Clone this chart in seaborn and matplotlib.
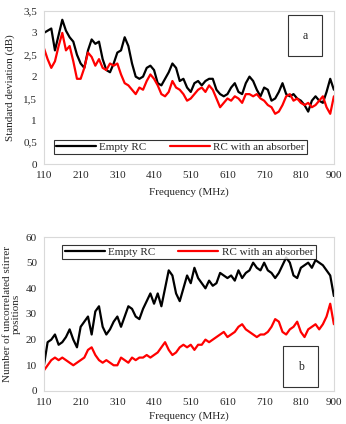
import numpy as np
import pandas as pd
import matplotlib.pyplot as plt
import seaborn as sns

# frequency axis (MHz)
freq = list(range(110, 901, 10))

# panel a: standard deviation (dB)
std_empty = [3.0, 3.05, 3.1, 2.6, 2.95, 3.3, 3.05, 2.9, 2.8, 2.5,
             2.3, 2.2, 2.6, 2.85, 2.75, 2.8, 2.4, 2.15, 2.1, 2.3,
             2.55, 2.6, 2.9, 2.7, 2.3, 2.0, 1.95, 2.0, 2.2, 2.25,
             2.15, 1.85, 1.8, 1.95, 2.1, 2.3, 2.2, 1.9, 1.95, 1.75,
             1.65, 1.85, 1.9, 1.8, 1.9, 1.95, 1.95, 1.7, 1.6, 1.55,
             1.6, 1.75, 1.85, 1.65, 1.6, 1.85, 2.0, 1.9, 1.7, 1.55,
             1.75, 1.7, 1.45, 1.5, 1.65, 1.85, 1.6, 1.55, 1.6, 1.5,
             1.45, 1.35, 1.2, 1.45, 1.55, 1.45, 1.4, 1.65, 1.95, 1.7]
std_absorber = [2.65, 2.4, 2.2, 2.35, 2.7, 3.0, 2.6, 2.7, 2.35, 1.95,
                1.95, 2.2, 2.55, 2.45, 2.25, 2.4, 2.2, 2.15, 2.3, 2.25,
                2.3, 2.05, 1.85, 1.8, 1.7, 1.6, 1.75, 1.7, 1.9, 2.05,
                1.95, 1.8, 1.6, 1.55, 1.65, 1.9, 1.75, 1.7, 1.6, 1.45,
                1.5, 1.6, 1.7, 1.75, 1.65, 1.8, 1.7, 1.5, 1.3, 1.4,
                1.5, 1.45, 1.55, 1.5, 1.4, 1.6, 1.6, 1.55, 1.6, 1.5,
                1.45, 1.35, 1.3, 1.15, 1.2, 1.35, 1.55, 1.6, 1.45, 1.5,
                1.4, 1.35, 1.4, 1.3, 1.35, 1.45, 1.55, 1.3, 1.15, 1.55]

# panel b: number of uncorrelated stirrer positions
n_empty = [10, 19, 20, 22, 18, 19, 21, 24, 20, 17,
           25, 27, 29, 22, 31, 33, 25, 22, 24, 27,
           29, 25, 29, 33, 32, 29, 28, 32, 35, 38,
           34, 38, 33, 40, 47, 45, 38, 35, 40, 45,
           42, 48, 44, 42, 40, 43, 41, 42, 46, 45,
           44, 45, 43, 47, 44, 46, 47, 50, 48, 47,
           50, 47, 46, 44, 46, 49, 52, 50, 45, 44,
           48, 49, 50, 48, 51, 50, 49, 47, 45, 37]
n_absorber = [8, 10, 12, 13, 12, 13, 12, 11, 10, 11,
              12, 13, 16, 17, 14, 12, 11, 12, 11, 10,
              10, 13, 12, 11, 13, 12, 13, 13, 14, 13,
              14, 15, 17, 19, 16, 14, 15, 17, 18, 17,
              18, 16, 18, 18, 20, 19, 20, 21, 22, 23,
              21, 22, 23, 25, 26, 24, 23, 22, 21, 22,
              22, 23, 25, 28, 27, 23, 22, 24, 25, 27,
              23, 21, 24, 25, 26, 24, 26, 29, 34, 26]

labels = ['Empty RC', 'RC with an absorber']
xticks = [110, 210, 310, 410, 510, 610, 710, 810, 900]

df_a = pd.DataFrame({'freq': freq * 2, 'val': std_empty + std_absorber,
                     'case': [labels[0]] * len(freq) + [labels[1]] * len(freq)})
df_b = pd.DataFrame({'freq': freq * 2, 'val': n_empty + n_absorber,
                     'case': [labels[0]] * len(freq) + [labels[1]] * len(freq)})

sns.set_style('white')
plt.rcParams['font.family'] = ['Liberation Serif', 'DejaVu Serif']
fs = 8
plt.rcParams['font.size'] = fs

pal = {labels[0]: 'black', labels[1]: '#ff0000'}
fig = plt.figure(figsize=(3.46, 4.24), dpi=100)
ax1 = fig.add_axes([0.127, 0.613, 0.838, 0.361])
ax2 = fig.add_axes([0.127, 0.078, 0.838, 0.363])

for ax, df in [(ax1, df_a), (ax2, df_b)]:
    sns.lineplot(data=df, x='freq', y='val', hue='case', palette=pal,
                 linewidth=1.6, ax=ax)
    ax.set_xlim(110, 900)
    ax.set_xticks(xticks)
    ax.tick_params(labelsize=fs, length=0, pad=5)
    for s in ax.spines.values():
        s.set_color('#d9d9d9')
        s.set_linewidth(0.8)

ax1.set_xlabel('Frequency (MHz)', fontsize=fs, labelpad=5)
ax2.set_xlabel('Frequency (MHz)', fontsize=fs, labelpad=3)

legkw = dict(ncol=2, frameon=True, fancybox=False, fontsize=fs,
             handlelength=3.6, columnspacing=2.1, borderpad=0.2,
             handletextpad=0.3)

# panel a
ax1.set_ylim(0, 3.5)
yt = np.arange(0, 3.51, 0.5)
ax1.set_yticks(yt)
ax1.set_yticklabels([f'{v:g}'.replace('.', ',') for v in yt])
ax1.set_ylabel('Standard deviation (dB)', fontsize=fs)
ax1.yaxis.set_label_coords(-0.1, 0.5)
leg = ax1.legend(loc='lower center', bbox_to_anchor=(0.47, 0.03), **legkw)
leg.get_frame().set_edgecolor('black')
leg.get_frame().set_linewidth(0.8)
ax1.text(0.90, 0.84, 'a', transform=ax1.transAxes, ha='center', va='center',
         fontsize=fs + 0.5, bbox=dict(boxstyle='square,pad=1.2', fc='white',
                                      ec='#333333', lw=0.8))

# panel b
ax2.set_ylim(0, 60)
ax2.set_yticks(range(0, 61, 10))
ax2.set_ylabel('Number of uncorrelated stirrer\npositions', fontsize=fs,
               linespacing=1.0)
ax2.yaxis.set_label_coords(-0.08, 0.5)
leg = ax2.legend(loc='upper center', bbox_to_anchor=(0.5, 0.985), **legkw)
leg.get_frame().set_edgecolor('black')
leg.get_frame().set_linewidth(0.8)
ax2.text(0.885, 0.158, 'b', transform=ax2.transAxes, ha='center', va='center',
         fontsize=fs + 0.5, bbox=dict(boxstyle='square,pad=1.2', fc='white',
                                      ec='#333333', lw=0.8))

fig.savefig('out.png', dpi=100)
